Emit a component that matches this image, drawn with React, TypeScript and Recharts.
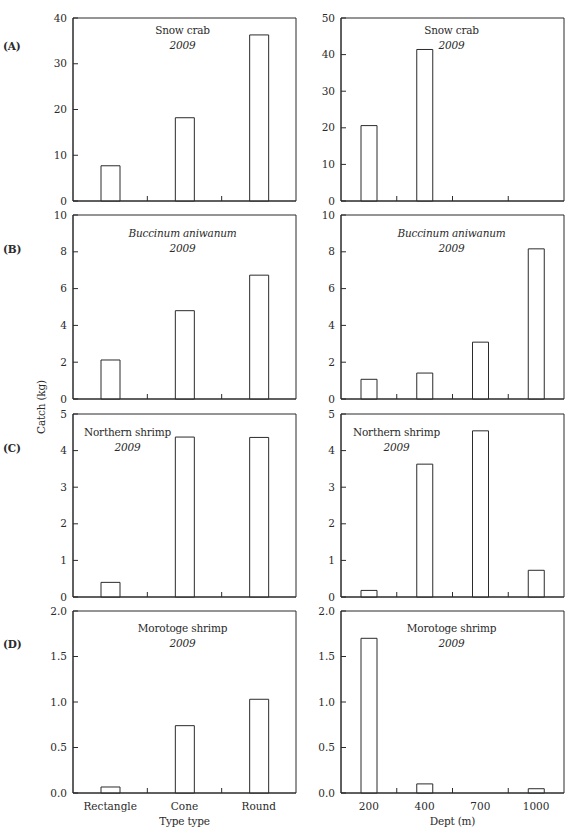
import { BarChart, Bar, XAxis, YAxis, CartesianGrid } from 'recharts'

const TYPE_LABELS = ['Rectangle', 'Cone', 'Round']
const DEPTH_LABELS = ['200', '400', '700', '1000']

const SNOW_TYPE = [7.7, 18.2, 36.3]
const SNOW_DEPTH = [20.6, 41.4, 0, 0]
const BUCC_TYPE = [2.12, 4.8, 6.73]
const BUCC_DEPTH = [1.07, 1.41, 3.09, 8.16]
const NSHRIMP_TYPE = [0.4, 4.37, 4.36]
const NSHRIMP_DEPTH = [0.18, 3.63, 4.54, 0.73]
const MORO_TYPE = [0.066, 0.74, 1.03]
const MORO_DEPTH = [1.7, 0.1, 0, 0.047]

const INK = '#2b2b2b'
const FONT = "'DejaVu Serif', 'Liberation Serif', serif"
const FS = 10.5
const PLOT_W = 223
const Y_AXIS_W = 45
const M_TOP = 10
const M_RIGHT = 5
const COL_LEFT = [73, 341]

interface Row {
  letter: string
  name: string
  italicName: boolean
  top: number
  height: number
  max: number[]
  step: number[]
  decimals: number
  titleDy: number
  titleDx: number[]
  type: number[]
  depth: number[]
}

const ROWS: Row[] = [
  { letter: '(A)', name: 'Snow crab', italicName: false, top: 18, height: 183, max: [40, 50], step: [10, 10], decimals: 0, titleDy: 12, titleDx: [-2, -1], type: SNOW_TYPE, depth: SNOW_DEPTH },
  { letter: '(B)', name: 'Buccinum aniwanum', italicName: true, top: 215, height: 184, max: [10, 10], step: [2, 2], decimals: 0, titleDy: 18, titleDx: [-2, -1], type: BUCC_TYPE, depth: BUCC_DEPTH },
  { letter: '(C)', name: 'Northern shrimp', italicName: false, top: 414, height: 183, max: [5, 5], step: [1, 1], decimals: 0, titleDy: 18, titleDx: [-57, -56], type: NSHRIMP_TYPE, depth: NSHRIMP_DEPTH },
  { letter: '(D)', name: 'Morotoge shrimp', italicName: false, top: 611, height: 182, max: [2, 2], step: [0.5, 0.5], decimals: 1, titleDy: 17, titleDx: [-2, -1], type: MORO_TYPE, depth: MORO_DEPTH },
]

function XTick(props: any) {
  const { x, y, index, payload, count, showLabel } = props
  const half = PLOT_W / count / 2
  return (
    <g>
      {index < count - 1 && <line x1={x + half} x2={x + half} y1={y} y2={y - 5} stroke={INK} />}
      {showLabel && (
        <text x={x} y={y + 17} textAnchor="middle" fontSize={FS} style={{ fontFamily: FONT }} fill={INK}>
          {payload.value}
        </text>
      )}
    </g>
  )
}

function YTick(props: any) {
  const { x, y, payload, decimals } = props
  return (
    <g>
      <line x1={x} x2={x + 5} y1={y} y2={y} stroke={INK} />
      <text x={x - 6} y={y} dy="0.35em" textAnchor="end" fontSize={FS} style={{ fontFamily: FONT }} fill={INK}>
        {Number(payload.value).toFixed(decimals)}
      </text>
    </g>
  )
}

function Panel({ row, col, last }: { row: Row; col: number; last: boolean }) {
  const labels = col === 0 ? TYPE_LABELS : DEPTH_LABELS
  const values = col === 0 ? row.type : row.depth
  const data = labels.map((label, i) => ({ label, value: values[i] }))
  const max = row.max[col]
  const step = row.step[col]
  const ticks: number[] = []
  for (let v = 0; v <= max + 1e-9; v += step) ticks.push(Number(v.toFixed(2)))
  const xH = last ? 30 : 9
  return (
    <div style={{ position: 'absolute', left: COL_LEFT[col] - Y_AXIS_W, top: row.top - M_TOP }}>
      <BarChart
        width={Y_AXIS_W + PLOT_W + M_RIGHT}
        height={M_TOP + row.height + xH}
        data={data}
        margin={{ top: M_TOP, right: M_RIGHT, left: 0, bottom: 0 }}
        barSize={col === 0 ? 19 : 16}
      >
        <CartesianGrid
          stroke={INK}
          horizontalCoordinatesGenerator={({ offset }: any) => [offset.top, offset.top + offset.height]}
          verticalCoordinatesGenerator={({ offset }: any) => [offset.left, offset.left + offset.width]}
        />
        <XAxis
          dataKey="label"
          height={xH}
          tickSize={0}
          tickMargin={0}
          tickLine={false}
          axisLine={{ stroke: INK }}
          interval={0}
          tick={<XTick count={labels.length} showLabel={last} />}
        />
        <YAxis
          width={Y_AXIS_W}
          domain={[0, max]}
          ticks={ticks}
          interval={0}
          tickSize={0}
          tickMargin={0}
          tickLine={false}
          axisLine={{ stroke: INK }}
          tick={<YTick decimals={row.decimals} />}
        />
        <Bar dataKey="value" fill="#fff" stroke={INK} strokeWidth={1} isAnimationActive={false} />
      </BarChart>
    </div>
  )
}

const textBase: React.CSSProperties = {
  position: 'absolute',
  fontFamily: FONT,
  fontSize: FS,
  lineHeight: '12px',
  letterSpacing: '-0.2px',
  color: INK,
  whiteSpace: 'nowrap',
}

function Centered({ x, y, children, italic, bold }: { x: number; y: number; children: string; italic?: boolean; bold?: boolean }) {
  return (
    <div
      style={{
        ...textBase,
        left: x,
        top: y - 6,
        transform: 'translateX(-50%)',
        fontStyle: italic ? 'italic' : 'normal',
        fontWeight: bold ? 'bold' : 'normal',
      }}
    >
      {children}
    </div>
  )
}

export default function App() {
  return (
    <div style={{ position: 'absolute', left: 0, top: 0, width: 571, height: 828, overflow: 'hidden', background: '#fff' }}>
      {ROWS.map((row, r) => (
        <div key={row.letter}>
          {[0, 1].map((col) => (
            <Panel key={col} row={row} col={col} last={r === ROWS.length - 1} />
          ))}
          {[0, 1].map((col) => {
            const cx = COL_LEFT[col] + PLOT_W / 2 + row.titleDx[col]
            return (
              <div key={'t' + col}>
                <Centered x={cx} y={row.top + row.titleDy} italic={row.italicName}>
                  {row.name}
                </Centered>
                <Centered x={cx} y={row.top + row.titleDy + 15} italic>
                  2009
                </Centered>
              </div>
            )
          })}
          <div style={{ ...textBase, left: 3, top: row.top + row.titleDy + 16 - 6, fontWeight: 'bold' }}>{row.letter}</div>
        </div>
      ))}
      <div
        style={{
          ...textBase,
          left: 41,
          top: 407 - 6,
          transform: 'translateX(-50%) rotate(-90deg)',
        }}
      >
        Catch (kg)
      </div>
      <Centered x={COL_LEFT[0] + PLOT_W / 2} y={821}>
        Type type
      </Centered>
      <Centered x={COL_LEFT[1] + PLOT_W / 2} y={821}>
        Dept (m)
      </Centered>
    </div>
  )
}
